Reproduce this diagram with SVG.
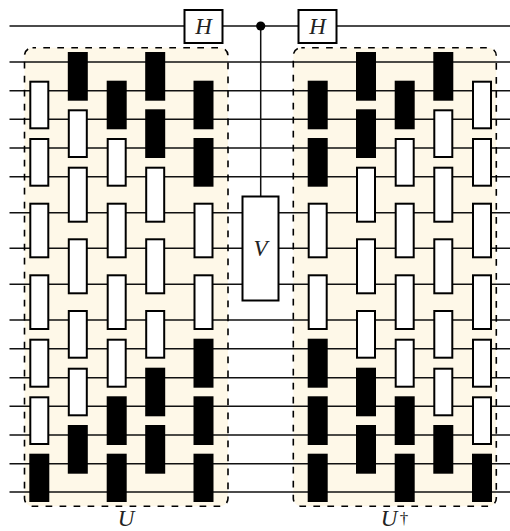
<svg xmlns="http://www.w3.org/2000/svg" width="510" height="531" viewBox="0 0 510 531">
<style>
.w{fill:#fff;stroke:#000;stroke-width:2}
.b{fill:#000;stroke:#000;stroke-width:2}
.wire{stroke:#111;stroke-width:1.5;fill:none}
.frame{fill:#fef8e8}
.dash{fill:none;stroke:#000;stroke-width:1.6;stroke-dasharray:6.7 7.3;stroke-dashoffset:3.2}
text{font-family:"Liberation Serif","DejaVu Serif",serif;font-style:italic;font-size:23px;text-anchor:middle;fill:#222}
</style>
<rect width="510" height="531" fill="#fff"/>
<g id="frames-fill">
<rect class="frame" x="24.5" y="47.7" width="203.5" height="458.6" rx="8"/>
<rect class="frame" x="293.3" y="47.7" width="203" height="458.6" rx="8"/>
</g>
<g id="connectors">
<path class="wire" d="M9.5 26H510M9.5 62H510M9.5 90.7H510M9.5 119.3H510M9.5 148H510M9.5 176.7H510M9.5 212.7H510M9.5 248.3H510M9.5 284.3H510M9.5 320H510M9.5 348.7H510M9.5 377.7H510M9.5 406.3H510M9.5 435H510M9.5 463.7H510M9.5 492H510M260.7 26V196"/>
</g>
<g id="frames-outline">
<rect class="dash" x="24.5" y="47.7" width="203.5" height="458.6" rx="8"/>
<rect class="dash" x="293.3" y="47.7" width="203" height="458.6" rx="8"/>
</g>
<g id="U-col1">
<rect class="w" x="30.3" y="81.7" width="18" height="46.6"/>
<rect class="w" x="30.3" y="139" width="18" height="46.7"/>
<rect class="w" x="30.3" y="203.7" width="18" height="53.6"/>
<rect class="w" x="30.3" y="275.3" width="18" height="53.7"/>
<rect class="w" x="30.3" y="339.7" width="18" height="47"/>
<rect class="w" x="30.3" y="397.3" width="18" height="46.7"/>
<rect class="b" x="30.3" y="454.7" width="18" height="46.3"/>
</g>
<g id="U-col2">
<rect class="b" x="68.8" y="53" width="18" height="46.7"/>
<rect class="w" x="68.8" y="110.3" width="18" height="46.7"/>
<rect class="w" x="68.8" y="167.7" width="18" height="54"/>
<rect class="w" x="68.8" y="239.3" width="18" height="54"/>
<rect class="w" x="68.8" y="311" width="18" height="46.7"/>
<rect class="w" x="68.8" y="368.7" width="18" height="46.6"/>
<rect class="b" x="68.8" y="426" width="18" height="46.7"/>
</g>
<g id="U-col3">
<rect class="b" x="107.7" y="81.7" width="18" height="46.6"/>
<rect class="w" x="107.7" y="139" width="18" height="46.7"/>
<rect class="w" x="107.7" y="203.7" width="18" height="53.6"/>
<rect class="w" x="107.7" y="275.3" width="18" height="53.7"/>
<rect class="w" x="107.7" y="339.7" width="18" height="47"/>
<rect class="b" x="107.7" y="397.3" width="18" height="46.7"/>
<rect class="b" x="107.7" y="454.7" width="18" height="46.3"/>
</g>
<g id="U-col4">
<rect class="b" x="146.2" y="53" width="18" height="46.7"/>
<rect class="b" x="146.2" y="110.3" width="18" height="46.7"/>
<rect class="w" x="146.2" y="167.7" width="18" height="54"/>
<rect class="w" x="146.2" y="239.3" width="18" height="54"/>
<rect class="w" x="146.2" y="311" width="18" height="46.7"/>
<rect class="b" x="146.2" y="368.7" width="18" height="46.6"/>
<rect class="b" x="146.2" y="426" width="18" height="46.7"/>
</g>
<g id="U-col5">
<rect class="b" x="194.5" y="81.7" width="18" height="46.6"/>
<rect class="b" x="194.5" y="139" width="18" height="46.7"/>
<rect class="w" x="194.5" y="203.7" width="18" height="53.6"/>
<rect class="w" x="194.5" y="275.3" width="18" height="53.7"/>
<rect class="b" x="194.5" y="339.7" width="18" height="47"/>
<rect class="b" x="194.5" y="397.3" width="18" height="46.7"/>
<rect class="b" x="194.5" y="454.7" width="18" height="46.3"/>
</g>
<g id="Udag-col1">
<rect class="b" x="308.7" y="81.7" width="18" height="46.6"/>
<rect class="b" x="308.7" y="139" width="18" height="46.7"/>
<rect class="w" x="308.7" y="203.7" width="18" height="53.6"/>
<rect class="w" x="308.7" y="275.3" width="18" height="53.7"/>
<rect class="b" x="308.7" y="339.7" width="18" height="47"/>
<rect class="b" x="308.7" y="397.3" width="18" height="46.7"/>
<rect class="b" x="308.7" y="454.7" width="18" height="46.3"/>
</g>
<g id="Udag-col2">
<rect class="b" x="357" y="53" width="18" height="46.7"/>
<rect class="b" x="357" y="110.3" width="18" height="46.7"/>
<rect class="w" x="357" y="167.7" width="18" height="54"/>
<rect class="w" x="357" y="239.3" width="18" height="54"/>
<rect class="w" x="357" y="311" width="18" height="46.7"/>
<rect class="b" x="357" y="368.7" width="18" height="46.6"/>
<rect class="b" x="357" y="426" width="18" height="46.7"/>
</g>
<g id="Udag-col3">
<rect class="b" x="395.7" y="81.7" width="18" height="46.6"/>
<rect class="w" x="395.7" y="139" width="18" height="46.7"/>
<rect class="w" x="395.7" y="203.7" width="18" height="53.6"/>
<rect class="w" x="395.7" y="275.3" width="18" height="53.7"/>
<rect class="w" x="395.7" y="339.7" width="18" height="47"/>
<rect class="b" x="395.7" y="397.3" width="18" height="46.7"/>
<rect class="b" x="395.7" y="454.7" width="18" height="46.3"/>
</g>
<g id="Udag-col4">
<rect class="b" x="434.3" y="53" width="18" height="46.7"/>
<rect class="w" x="434.3" y="110.3" width="18" height="46.7"/>
<rect class="w" x="434.3" y="167.7" width="18" height="54"/>
<rect class="w" x="434.3" y="239.3" width="18" height="54"/>
<rect class="w" x="434.3" y="311" width="18" height="46.7"/>
<rect class="w" x="434.3" y="368.7" width="18" height="46.6"/>
<rect class="b" x="434.3" y="426" width="18" height="46.7"/>
</g>
<g id="Udag-col5">
<rect class="w" x="473" y="81.7" width="18" height="46.6"/>
<rect class="w" x="473" y="139" width="18" height="46.7"/>
<rect class="w" x="473" y="203.7" width="18" height="53.6"/>
<rect class="w" x="473" y="275.3" width="18" height="53.7"/>
<rect class="w" x="473" y="339.7" width="18" height="47"/>
<rect class="w" x="473" y="397.3" width="18" height="46.7"/>
<rect class="b" x="473" y="454.7" width="18" height="46.3"/>
</g>
<g id="H1">
<rect class="w" x="184.5" y="10" width="38" height="33"/>
<text x="203.5" y="34">H</text>
</g>
<g id="control">
<circle cx="260.7" cy="26" r="4.6" fill="#000"/>
</g>
<g id="H2">
<rect class="w" x="298.5" y="10" width="38" height="33"/>
<text x="317.5" y="34">H</text>
</g>
<g id="V">
<rect class="w" x="242.5" y="196.5" width="36" height="104"/>
<text x="260.5" y="256">V</text>
</g>
<g id="label-U"><text x="126" y="526">U</text></g>
<g id="label-Udag"><text x="389" y="526">U</text><text x="404" y="524" style="font-style:normal;font-size:17px">†</text></g>
</svg>
